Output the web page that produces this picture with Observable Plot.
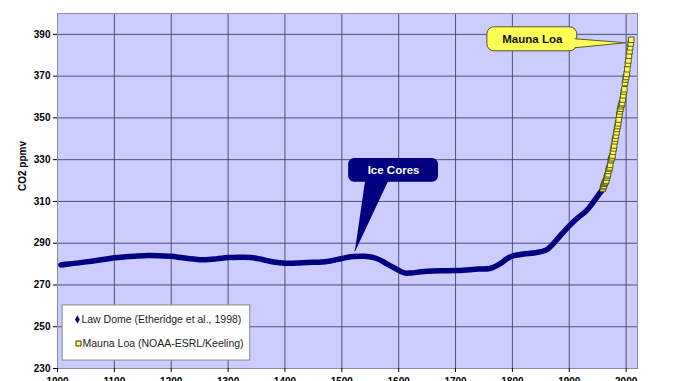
<!DOCTYPE html>
<html><head><meta charset="utf-8">
<script src="https://cdn.jsdelivr.net/npm/d3@7"></script>
<script src="https://cdn.jsdelivr.net/npm/@observablehq/plot@0.6"></script>
<style>
html,body{margin:0;padding:0;overflow:hidden;background:#fff;}
</style>
</head><body><div id="chart"></div>
<script>
// Law Dome ice core
const lawYears = [1006,1020,1040,1060,1080,1100,1120,1140,1160,1180,1200,1220,1240,1260,1280,1300,1320,1340,1360,1380,1400,1420,1440,1460,1480,1500,1520,1540,1560,1580,1600,1610,1620,1640,1660,1680,1700,1720,1740,1760,1780,1790,1800,1820,1840,1860,1870,1882,1900,1912,1930,1940,1953,1958];
const lawCO2 = [279.6,280.0,280.7,281.4,282.2,283.0,283.5,283.9,284.1,284.0,283.7,283.0,282.4,282.1,282.5,283.1,283.3,283.2,282.2,281.0,280.4,280.5,280.8,280.9,281.5,282.7,283.6,283.7,282.8,280.0,277.0,275.8,275.7,276.3,276.7,276.8,276.9,277.2,277.6,277.9,280.5,282.5,283.8,284.8,285.4,286.8,289.2,292.9,298.3,301.5,305.5,308.8,313.7,315.5];
// Mauna Loa annual means
const mlYears = [1959,1960,1961,1962,1963,1964,1965,1966,1967,1968,1969,1970,1971,1972,1973,1974,1975,1976,1977,1978,1979,1980,1981,1982,1983,1984,1985,1986,1987,1988,1989,1990,1991,1992,1993,1994,1995,1996,1997,1998,1999,2000,2001,2002,2003,2004,2005,2006,2007,2008,2009];
const mlCO2 = [316.0,316.9,317.6,318.5,319.0,319.6,320.0,321.4,322.2,323.0,324.6,325.7,326.3,327.5,329.7,330.2,331.1,332.0,333.8,335.4,336.8,338.8,340.1,341.5,343.1,344.7,346.1,347.4,349.2,351.6,353.1,354.4,355.6,356.5,357.1,358.8,360.8,362.6,363.7,366.7,368.4,369.6,371.1,373.3,375.8,377.5,379.8,381.9,383.8,385.6,387.4];

const xTicks = [1000,1100,1200,1300,1400,1500,1600,1700,1800,1900,2000];
const yTicks = [230,250,270,290,310,330,350,370,390];
const seriesNames = ["Law Dome (Etheridge et al., 1998)", "Mauna Loa (NOAA-ESRL/Keeling)"];
const calloutLabels = ["Ice Cores", "Mauna Loa"];
const yLabel = "CO2 ppmv";

const law = lawYears.map((year, i) => ({year, co2: lawCO2[i]}));
const ml = mlYears.map((year, i) => ({year, co2: mlCO2[i]}));

// annotation geometry in data coordinates
const iceBox = [{x1: 1512, x2: 1670, y1: 319.2, y2: 330.6}];
const icePointer = [[1541, 320], [1581, 320], [1523, 286.4]];
const iceText = [{x: 1591, y: 324.9, t: calloutLabels[0]}];
const mlBox = [{x1: 1756, x2: 1914, y1: 381.9, y2: 393.4}];
const mlPointer = [[1910, 387.9], [1999, 386.0], [1910, 383.6]];
const mlText = [{x: 1835, y: 387.7, t: calloutLabels[1]}];
const legendBox = [{x1: 1009, x2: 1339, y1: 233.8, y2: 260.2}];
const legendItems = [
  {sx: 1035, tx: 1042, y: 253.5, t: seriesNames[0]},
  {sx: 1037, tx: 1044, y: 242.0, t: seriesNames[1]}
];

const chart = Plot.plot({
  width: 678, height: 400,
  marginLeft: 57, marginRight: 41, marginTop: 13, marginBottom: 32,
  style: {fontFamily: "'Liberation Sans', Arial, sans-serif", fontSize: "10px", background: "white", overflow: "visible"},
  x: {domain: [1000, 2020]},
  y: {domain: [230, 400]},
  marks: [
    Plot.frame({fill: "#ccccff", stroke: null}),
    Plot.gridX(xTicks, {stroke: "#454568", strokeOpacity: 0.9}),
    Plot.gridY(yTicks, {stroke: "#454568", strokeOpacity: 0.9}),
    Plot.frame({stroke: "#8c8ca0"}),
    Plot.axisX(xTicks, {tickFormat: d => String(d), tickSize: 4, tickPadding: 5, label: null, fontWeight: "bold", fontSize: 10, fill: "#000"}),
    Plot.axisY(yTicks, {tickSize: 4, tickPadding: 3, label: null, fontWeight: "bold", fontSize: 10, fill: "#000"}),
    Plot.text([yLabel], {frameAnchor: "left", rotate: -90, dx: -35, text: d => d, fontWeight: "bold", fontSize: 10, fill: "#000"}),
    // Law Dome
    Plot.line(law, {x: "year", y: "co2", stroke: "#000080", strokeWidth: 5.5, curve: "catmull-rom", strokeLinecap: "round"}),
    // Mauna Loa
    Plot.dot(ml, {x: "year", y: "co2", symbol: "square", r: 3.1, fill: "#ffff55", stroke: "#3a3a10", strokeWidth: 0.8}),
    // Ice Cores callout
    Plot.line(icePointer, {x: d => d[0], y: d => d[1], fill: "#000080", stroke: "#000080", strokeWidth: 1}),
    Plot.rect(iceBox, {x1: "x1", x2: "x2", y1: "y1", y2: "y2", fill: "#000080", rx: 6}),
    Plot.text(iceText, {x: "x", y: "y", text: "t", fill: "white", fontWeight: "bold", fontSize: 11.5}),
    // Mauna Loa callout
    Plot.rect(mlBox, {x1: "x1", x2: "x2", y1: "y1", y2: "y2", fill: "#ffff55", stroke: "#555530", strokeWidth: 1, rx: 7}),
    Plot.line(mlPointer, {x: d => d[0], y: d => d[1], fill: "#ffff55", stroke: "#555530", strokeWidth: 1}),
    Plot.text(mlText, {x: "x", y: "y", text: "t", fill: "#111", fontWeight: "bold", fontSize: 11.5}),
    // legend
    Plot.rect(legendBox, {x1: "x1", x2: "x2", y1: "y1", y2: "y2", fill: "white", stroke: "#8a8a8a"}),
    Plot.dot(legendItems.slice(0, 1), {x: "sx", y: "y", symbol: "diamond", r: 2.5, fill: "#000080"}),
    Plot.dot(legendItems.slice(1), {x: "sx", y: "y", symbol: "square", r: 2.8, fill: "#ffff55", stroke: "#3a3a10", strokeWidth: 1}),
    Plot.text(legendItems, {x: "tx", y: "y", text: "t", textAnchor: "start", fill: "#222", fontSize: 10.5})
  ]
});
document.getElementById("chart").appendChild(chart);
</script>
</body></html>
